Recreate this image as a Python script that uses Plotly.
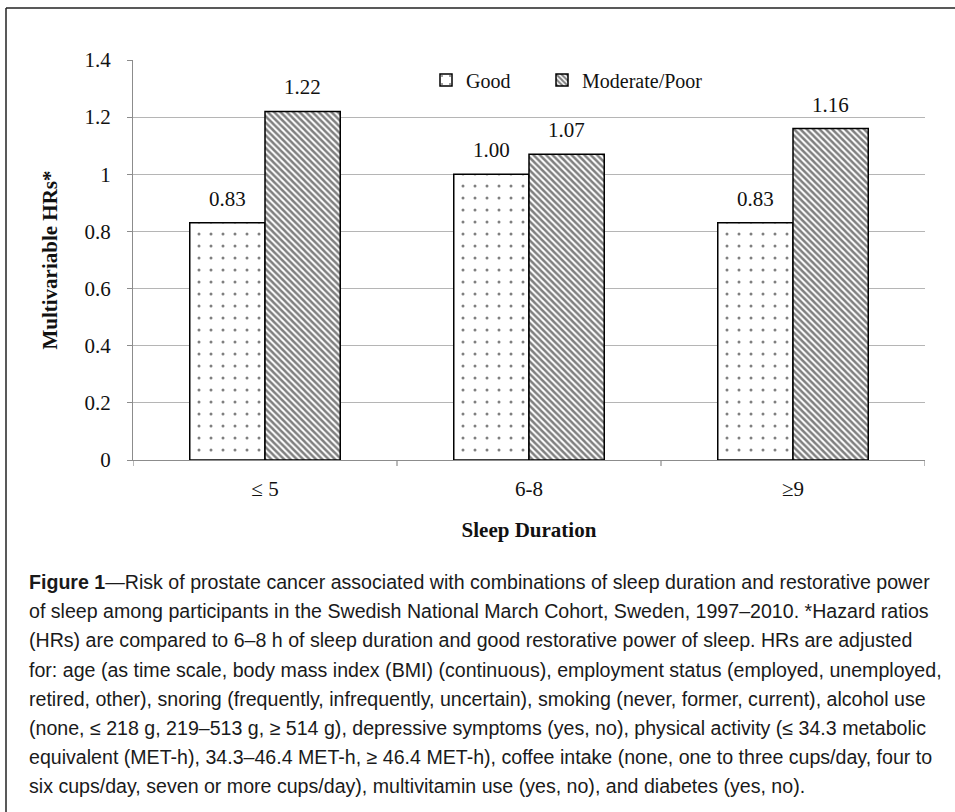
import plotly.graph_objects as go

categories = ["≤ 5", "6-8", "≥9"]
good = [0.83, 1.00, 0.83]
moderate_poor = [1.22, 1.07, 1.16]
series_names = ["Good", "Moderate/Poor"]
y_ticks = [0, 0.2, 0.4, 0.6, 0.8, 1.0, 1.2, 1.4]
y_ticklabels = ["0", "0.2", "0.4", "0.6", "0.8", "1", "1.2", "1.4"]

caption_lines = [
    "<b>Figure 1</b>—Risk of prostate cancer associated with combinations of sleep duration and restorative power",
    "of sleep among participants in the Swedish National March Cohort, Sweden, 1997–2010. *Hazard ratios",
    "(HRs) are compared to 6–8 h of sleep duration and good restorative power of sleep. HRs are adjusted",
    "for: age (as time scale, body mass index (BMI) (continuous), employment status (employed, unemployed,",
    "retired, other), snoring (frequently, infrequently, uncertain), smoking (never, former, current), alcohol use",
    "(none, ≤ 218 g, 219–513 g, ≥ 514 g), depressive symptoms (yes, no), physical activity (≤ 34.3 metabolic",
    "equivalent (MET-h), 34.3–46.4 MET-h, ≥ 46.4 MET-h), coffee intake (none, one to three cups/day, four to",
    "six cups/day, seven or more cups/day), multivitamin use (yes, no), and diabetes (yes, no).",
]

W, H = 955, 812
ML, MR, MT, MB = 133, 30, 60, 352
PW, PH = W - ML - MR, H - MT - MB

SERIF = "Liberation Serif, Times New Roman, serif"
SANS = "Liberation Sans Narrow, Arial Narrow, Liberation Sans, Arial, sans-serif"
BARGAP = 0.43

xs = list(range(len(categories)))

fig = go.Figure()
fig.add_trace(go.Bar(
    x=xs, y=good, name=series_names[0], legend="legend",
    marker=dict(color="white", line=dict(color="black", width=1.5),
                pattern=dict(shape=".", fgcolor="black", bgcolor="white", size=12, solidity=0.05)),
))
fig.add_trace(go.Bar(
    x=xs, y=moderate_poor, name=series_names[1], legend="legend2",
    marker=dict(color="white", line=dict(color="black", width=1.5),
                pattern=dict(shape="\\", fgcolor="black", bgcolor="white", size=4.5, solidity=0.55)),
))

# value labels above bars
half = (1 - BARGAP) / 4
for vals, sign in ((good, -1), (moderate_poor, 1)):
    for i, v in enumerate(vals):
        fig.add_annotation(x=i + sign * half, y=v, xref="x", yref="y",
                           text=f"{v:.2f}", showarrow=False, yanchor="bottom", yshift=10,
                           font=dict(family=SERIF, size=21, color="#111"))

# caption
line_h = 29.2
y0 = 582
for k, line in enumerate(caption_lines):
    ypx = y0 + k * line_h
    fig.add_annotation(x=(27 - ML) / PW, y=(H - MB - ypx) / PH, xref="paper", yref="paper",
                       text=line, showarrow=False, xanchor="left", yanchor="middle",
                       font=dict(family=SANS, size=19.6, color="#1a1a1a"))

# frame lines (left and top)
fx = (6 - ML) / PW
fy_top = 1 + (MT - 8) / PH
fy_bot = (H - MB - H) / PH
fx_right = (W - ML) / PW
fig.add_shape(type="line", xref="paper", yref="paper", x0=fx, x1=fx, y0=fy_bot, y1=fy_top,
              line=dict(color="#222", width=1.5))
fig.add_shape(type="line", xref="paper", yref="paper", x0=fx, x1=fx_right, y0=fy_top, y1=fy_top,
              line=dict(color="#222", width=1.5))

legend_common = dict(orientation="h", y=0.95, xanchor="left", yanchor="middle",
                     bgcolor="rgba(0,0,0,0)", font=dict(family=SERIF, size=20, color="#111"),
                     itemwidth=30)

fig.update_layout(
    width=W, height=H,
    margin=dict(l=ML, r=MR, t=MT, b=MB, autoexpand=False),
    paper_bgcolor="white", plot_bgcolor="white",
    barmode="group", bargap=BARGAP, bargroupgap=0,
    font=dict(family=SERIF, size=20, color="#111"),
    showlegend=True,
    legend=dict(x=(426 - ML) / PW, **legend_common),
    legend2=dict(x=(542 - ML) / PW, **legend_common),
    xaxis=dict(
        tickmode="array", tickvals=xs, ticktext=categories,
        range=[-0.5, len(categories) - 0.5],
        showgrid=False, showline=True, linecolor="#8c8c8c", linewidth=1.2,
        ticks="", tickfont=dict(family=SERIF, size=21, color="#111"),
        ticklabelstandoff=10,
        title=dict(text="<b>Sleep Duration</b>", font=dict(family=SERIF, size=21, color="#111"),
                   standoff=22),
        zeroline=False,
    ),
    yaxis=dict(
        range=[0, 1.4], tickmode="array", tickvals=y_ticks, ticktext=y_ticklabels,
        showgrid=True, gridcolor="#b5b5b5", gridwidth=1.2,
        showline=True, linecolor="#8c8c8c", linewidth=1.2,
        ticks="outside", ticklen=5, tickcolor="#8c8c8c",
        ticklabelstandoff=12,
        tickfont=dict(family=SERIF, size=21, color="#111"),
        title=dict(text="<b>Multivariable HRs*</b>", font=dict(family=SERIF, size=21, color="#111"),
                   standoff=21),
        zeroline=False,
    ),
)

# category boundary ticks on x axis
for b in [i - 0.5 for i in range(len(categories) + 1)]:
    fig.add_shape(type="line", xref="x", yref="paper", x0=b, x1=b, y0=0, y1=-6 / PH,
                  line=dict(color="#8c8c8c", width=1.2))

fig.write_html("out.html", config={"displayModeBar": False},
               post_script="document.body.style.margin='0';document.body.style.overflow='hidden';")
